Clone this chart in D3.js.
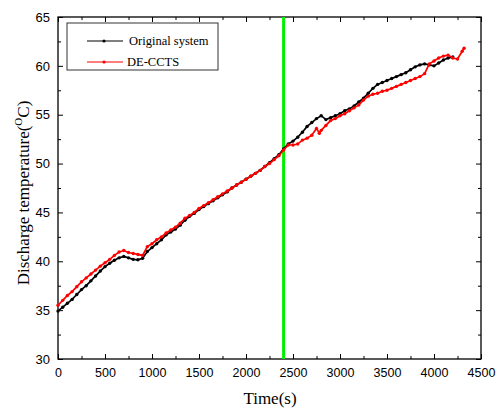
<!DOCTYPE html>
<html><head><meta charset="utf-8">
<script src="https://cdn.jsdelivr.net/npm/d3@7"></script>
<style>body{margin:0;background:#fff}svg{display:block}</style>
</head><body>
<script>
const times = [0,50,100,150,200,250,300,350,400,450,500,550,600,650,700,750,800,850,900,950,1000,1050,1100,1150,1200,1250,1300,1350,1400,1450,1500,1550,1600,1650,1700,1750,1800,1850,1900,1950,2000,2050,2100,2150,2200,2250,2300,2350,2400,2450,2500,2550,2600,2650,2700,2750,2800,2850,2900,2950,3000,3050,3100,3150,3200,3250,3300,3350,3400,3450,3500,3550,3600,3650,3700,3750,3800,3850,3900,3950,4000,4050,4100,4150,4200];
const originalSystem = [34.9,35.3,35.7,36.1,36.6,37.1,37.5,38.0,38.5,39.0,39.45,39.8,40.1,40.35,40.5,40.35,40.2,40.15,40.3,41.0,41.4,41.8,42.2,42.7,43.0,43.3,43.7,44.2,44.6,44.9,45.3,45.6,45.9,46.2,46.5,46.8,47.1,47.5,47.8,48.1,48.4,48.7,49.0,49.3,49.7,50.1,50.5,50.9,51.5,52.0,52.3,52.7,53.2,53.8,54.2,54.6,54.9,54.5,54.7,54.9,55.1,55.4,55.6,55.9,56.3,56.7,57.2,57.7,58.1,58.3,58.5,58.7,58.9,59.1,59.3,59.6,59.9,60.1,60.2,60.1,60.0,60.3,60.6,60.8,60.9];
const timesDE = [0,50,100,150,200,250,300,350,400,450,500,550,600,650,700,750,800,850,900,950,1000,1050,1100,1150,1200,1250,1300,1350,1400,1450,1500,1550,1600,1650,1700,1750,1800,1850,1900,1950,2000,2050,2100,2150,2200,2250,2300,2350,2400,2450,2500,2550,2600,2650,2700,2750,2780,2800,2850,2900,2950,3000,3050,3100,3150,3200,3250,3300,3350,3400,3450,3500,3550,3600,3650,3700,3750,3800,3850,3900,3950,4000,4050,4100,4150,4200,4250,4300,4320];
const deCCTS = [35.5,36.0,36.5,36.9,37.4,37.9,38.3,38.7,39.1,39.5,39.85,40.2,40.6,40.95,41.1,40.9,40.8,40.7,40.6,41.5,41.8,42.2,42.5,42.9,43.2,43.5,43.9,44.4,44.7,45.0,45.4,45.7,46.0,46.3,46.6,46.9,47.2,47.5,47.8,48.1,48.4,48.7,49.0,49.3,49.7,50.0,50.4,50.8,51.4,51.9,51.9,52.0,52.4,52.6,52.9,53.6,53.1,53.4,53.9,54.4,54.6,54.9,55.1,55.4,55.7,56.0,56.5,56.9,57.1,57.2,57.4,57.5,57.7,57.9,58.1,58.3,58.5,58.7,58.9,59.2,60.2,60.5,60.8,61.0,61.1,60.8,60.7,61.5,61.8];
const markerTime = 2400;
const xTicks = [0,500,1000,1500,2000,2500,3000,3500,4000,4500];
const yTicks = [30,35,40,45,50,55,60,65];
const seriesNames = ["Original system","DE-CCTS"];

const W = 501, H = 411;
const svg = d3.select("body").append("svg").attr("width", W).attr("height", H);
const x = d3.scaleLinear().domain([0,4500]).range([58,481]);
const y = d3.scaleLinear().domain([30,65]).range([359,17]);

const axisColor = "#000";
const tickFont = "'Liberation Sans', Arial, sans-serif";
const serif = "'Liberation Serif', 'Times New Roman', serif";

const xMinor = d3.range(250, 4500, 500);
const yMinor = d3.range(32.5, 65, 5);

function styleAxis(g){
  g.select(".domain").remove();
  g.selectAll(".tick line").attr("stroke", axisColor).attr("stroke-width", 1);
}
const gB = svg.append("g").attr("transform","translate(0,359)")
  .call(d3.axisBottom(x).tickValues(xTicks).tickSize(-5).tickPadding(9).tickFormat(d3.format("d")));
styleAxis(gB);
gB.selectAll("text").attr("font-family", tickFont).attr("font-size", 12.5).attr("fill","#000");
svg.append("g").attr("transform","translate(0,359)")
  .call(d3.axisBottom(x).tickValues(xMinor).tickSize(-3).tickFormat("")).call(styleAxis);
svg.append("g").attr("transform","translate(0,17)")
  .call(d3.axisTop(x).tickValues(xTicks).tickSize(-5).tickFormat("")).call(styleAxis);
svg.append("g").attr("transform","translate(0,17)")
  .call(d3.axisTop(x).tickValues(xMinor).tickSize(-3).tickFormat("")).call(styleAxis);
const gL = svg.append("g").attr("transform","translate(58,0)")
  .call(d3.axisLeft(y).tickValues(yTicks).tickSize(-5).tickPadding(8).tickFormat(d3.format("d")));
styleAxis(gL);
gL.selectAll("text").attr("font-family", tickFont).attr("font-size", 13).attr("fill","#000");
svg.append("g").attr("transform","translate(58,0)")
  .call(d3.axisLeft(y).tickValues(yMinor).tickSize(-3).tickFormat("")).call(styleAxis);
svg.append("g").attr("transform","translate(481,0)")
  .call(d3.axisRight(y).tickValues(yTicks).tickSize(-5).tickFormat("")).call(styleAxis);
svg.append("g").attr("transform","translate(481,0)")
  .call(d3.axisRight(y).tickValues(yMinor).tickSize(-3).tickFormat("")).call(styleAxis);

svg.append("rect").attr("x",58).attr("y",17).attr("width",423).attr("height",342)
  .attr("fill","none").attr("stroke","#000").attr("stroke-width",1.3);

svg.append("line").attr("x1",x(markerTime)).attr("x2",x(markerTime))
  .attr("y1",y(65)).attr("y2",y(30)).attr("stroke","#00ee00").attr("stroke-width",3);

const line = d3.line().x(d=>x(d[0])).y(d=>y(d[1]));
const s1 = times.map((t,i)=>[t, originalSystem[i]]);
const s2 = timesDE.map((t,i)=>[t, deCCTS[i]]);
[[s1,"#000"],[s2,"#ff0000"]].forEach(([data,color])=>{
  svg.append("path").datum(data).attr("d",line).attr("fill","none")
    .attr("stroke",color).attr("stroke-width",1.7);
  svg.append("g").selectAll("circle").data(data).join("circle")
    .attr("cx",d=>x(d[0])).attr("cy",d=>y(d[1])).attr("r",1.7).attr("fill",color);
});

const lg = svg.append("g");
lg.append("rect").attr("x",67).attr("y",23).attr("width",151).attr("height",47)
  .attr("fill","#fff").attr("stroke","#333").attr("stroke-width",1);
[["#000",41],["#ff0000",62]].forEach(([c,yy],i)=>{
  lg.append("line").attr("x1",87).attr("x2",123).attr("y1",yy).attr("y2",yy).attr("stroke",c).attr("stroke-width",1.2);
  lg.append("circle").attr("cx",104).attr("cy",yy).attr("r",1.6).attr("fill",c);
  lg.append("text").attr("x",i===0?129:127).attr("y",yy+4).text(seriesNames[i])
    .attr("font-family",serif).attr("font-size",12.5).attr("fill","#000");
});

svg.append("text").attr("x",270).attr("y",404).attr("text-anchor","middle")
  .attr("font-family",serif).attr("font-size",17).text("Time(s)");
const yt = svg.append("text").attr("transform","translate(29,193) rotate(-90)")
  .attr("text-anchor","middle").attr("font-family",serif).attr("font-size",17);
yt.append("tspan").text("Discharge temperature(");
yt.append("tspan").attr("dy",-7).attr("font-size",11).text("O");
yt.append("tspan").attr("dy",7).text("C)");
</script>
</body></html>
